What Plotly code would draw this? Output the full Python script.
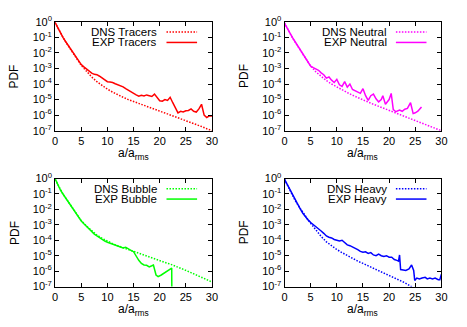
import plotly.graph_objects as go

# a/a_rms values and log10(PDF)
x_dns = [0, 0.5, 1, 1.5, 2, 2.5, 3, 3.5, 4, 4.5, 5, 6, 7, 8, 9, 10, 11, 12, 13, 14, 15,
         16, 17, 18, 19, 20, 21, 22, 23, 24, 25, 26, 27, 28, 29, 30]

dns_tracers = [-0.05, -0.4, -0.72, -1.0, -1.28, -1.55, -1.8, -2.05, -2.3, -2.55, -2.8,
               -3.2, -3.55, -3.85, -4.1, -4.33, -4.52, -4.7, -4.85, -5.0, -5.13, -5.26,
               -5.38, -5.5, -5.62, -5.74, -5.86, -5.98, -6.1, -6.22, -6.34, -6.47, -6.6,
               -6.73, -6.87, -7.0]
dns_neutral = [-0.08, -0.42, -0.74, -1.02, -1.3, -1.56, -1.82, -2.07, -2.32, -2.58, -2.85,
               -3.22, -3.52, -3.78, -4.0, -4.2, -4.38, -4.55, -4.72, -4.88, -5.02, -5.16,
               -5.3, -5.43, -5.56, -5.7, -5.83, -5.96, -6.08, -6.2, -6.32, -6.45, -6.58,
               -6.72, -6.86, -7.0]
dns_bubble = [-0.05, -0.4, -0.72, -1.0, -1.25, -1.5, -1.75, -2.0, -2.25, -2.48, -2.72,
              -3.08, -3.4, -3.66, -3.88, -4.07, -4.22, -4.36, -4.48, -4.62, -4.76, -4.88,
              -5.0, -5.12, -5.23, -5.34, -5.44, -5.54, -5.66, -5.8, -5.95, -6.1, -6.25,
              -6.4, -6.55, -6.7]
dns_heavy = [-0.05, -0.4, -0.75, -1.08, -1.4, -1.68, -1.95, -2.2, -2.45, -2.68, -2.9,
             -3.35, -3.75, -4.1, -4.38, -4.6, -4.8, -5.0, -5.18, -5.35, -5.5, -5.65,
             -5.8, -5.95, -6.1, -6.25, -6.4, -6.56, -6.75, -6.95, -7.15, -7.35, -7.5,
             -7.7, -7.9, -8.1]

x_exp_tracers = [0, 0.5, 1, 1.5, 2, 2.5, 3, 3.5, 4, 4.5, 5, 5.5, 6, 6.5, 7, 7.5, 8, 8.5, 9,
                 9.5, 10, 10.5, 11, 11.5, 12, 12.5, 13, 13.5, 14, 14.5, 15, 15.5, 16, 16.5,
                 17, 17.5, 18, 18.5, 19, 19.5, 20, 20.5, 21, 21.5, 22, 22.5, 23, 23.5, 24,
                 24.5, 25, 25.5, 26, 26.5, 27, 27.5, 28, 28.5, 29, 29.5, 30]
exp_tracers = [-0.05, -0.4, -0.72, -1.0, -1.27, -1.52, -1.77, -2.0, -2.25, -2.5, -2.75,
               -2.9, -3.05, -3.15, -3.3, -3.38, -3.4, -3.5, -3.62, -3.78, -3.85, -3.87,
               -3.9, -3.98, -4.05, -4.1, -4.18, -4.3, -4.4, -4.55, -4.62, -4.7, -4.78,
               -4.72, -4.76, -4.7, -4.75, -4.8, -4.65, -4.85, -5.08, -5.1, -5.0, -5.05,
               -4.85, -5.2, -5.5, -5.85, -5.75, -5.8, -5.72, -5.7, -5.6, -5.75, -5.8,
               -5.6, -5.3, -6.0, -6.15, -6.05, -6.05]

x_exp_neutral = [0, 0.5, 1, 1.5, 2, 2.5, 3, 3.5, 4, 4.5, 5, 5.5, 6, 6.5, 7, 7.5, 8, 8.5, 9,
                 9.5, 10, 10.5, 11, 11.5, 12, 12.5, 13, 13.5, 14, 14.5, 15, 15.5, 16, 16.5,
                 17, 17.5, 18, 18.5, 18.8, 19.3, 20, 20.4, 20.8, 21.3, 22, 22.5, 23, 23.5,
                 24.1, 24.6, 25, 25.5, 26.2]
exp_neutral = [-0.1, -0.42, -0.72, -1.0, -1.27, -1.52, -1.77, -2.02, -2.28, -2.55, -2.85,
               -2.95, -3.05, -3.12, -3.28, -3.4, -3.62, -3.55, -3.75, -3.9, -3.7, -4.05,
               -4.15, -3.85, -4.2, -4.0, -4.35, -4.45, -4.55, -4.6, -4.3, -4.75, -5.05,
               -4.75, -4.65, -4.95, -5.15, -5.0, -4.75, -5.3, -5.0, -4.6, -5.65, -5.78,
               -5.68, -5.75, -5.62, -5.57, -5.2, -5.9, -5.85, -5.75, -5.47]

x_exp_bubble = [0, 0.5, 1, 1.5, 2, 2.5, 3, 3.5, 4, 4.5, 5, 5.5, 6, 6.5, 7, 7.5, 8, 8.5, 9,
                9.5, 10, 10.5, 11, 11.5, 12, 12.5, 13, 13.5, 14, 14.5, 15, 15.5, 16, 16.5,
                17, 17.5, 18, 18.5, 18.8, 19.3, 19.7, 20.3, 21, 21.5, 22, 22.3, 22.35]
exp_bubble = [-0.02, -0.4, -0.74, -1.0, -1.25, -1.52, -1.77, -2.02, -2.28, -2.52, -2.75,
              -2.93, -3.1, -3.28, -3.45, -3.6, -3.72, -3.85, -3.94, -4.05, -4.13, -4.2,
              -4.27, -4.33, -4.39, -4.45, -4.5, -4.45, -4.58, -4.65, -4.74, -5.05, -5.3,
              -5.5, -5.6, -5.62, -5.72, -5.65, -5.6, -6.25, -6.35, -6.25, -6.1, -6.0,
              -5.85, -5.8, -9.0]

x_exp_heavy = [0, 0.5, 1, 1.5, 2, 2.5, 3, 3.5, 4, 4.5, 5, 5.5, 6, 6.5, 7, 7.5, 8, 8.5, 9,
               9.5, 10, 10.5, 11, 11.5, 12, 12.5, 13, 13.5, 14, 14.5, 15, 15.5, 16, 16.5,
               17, 17.5, 18, 18.5, 19, 19.5, 20, 20.5, 21, 21.5, 21.8, 22, 22.2, 22.7,
               23.2, 23.8, 24.3, 24.7, 24.9, 25.3, 25.8, 26.3, 26.9, 27.3, 27.8, 28.3,
               28.8, 29.4, 29.7, 30]
exp_heavy = [-0.05, -0.38, -0.7, -1.03, -1.36, -1.67, -1.97, -2.25, -2.48, -2.68, -2.85,
             -2.98, -3.1, -3.25, -3.4, -3.55, -3.72, -3.8, -3.85, -3.95, -4.0, -4.05,
             -4.0, -4.15, -4.3, -4.35, -4.42, -4.5, -4.6, -4.72, -4.78, -4.75, -4.85,
             -4.8, -4.95, -5.0, -4.9, -5.0, -5.05, -5.0, -5.1, -5.1, -5.25, -5.3, -5.35,
             -4.95, -5.9, -5.92, -5.95, -5.85, -5.6, -5.95, -6.6, -6.45, -6.5, -6.45,
             -6.4, -6.5, -6.45, -6.5, -6.45, -6.55, -6.55, -6.2]

panels = [
    ("Tracers", "#ff0000", dns_tracers, x_exp_tracers, exp_tracers),
    ("Neutral", "#ff00ff", dns_neutral, x_exp_neutral, exp_neutral),
    ("Bubble", "#00ff00", dns_bubble, x_exp_bubble, exp_bubble),
    ("Heavy", "#0000ff", dns_heavy, x_exp_heavy, exp_heavy),
]

y_tick_vals = [1e0, 1e-1, 1e-2, 1e-3, 1e-4, 1e-5, 1e-6, 1e-7]
y_tick_text = ["10<sup>0</sup>", "10<sup>-1</sup>", "10<sup>-2</sup>", "10<sup>-3</sup>",
               "10<sup>-4</sup>", "10<sup>-5</sup>", "10<sup>-6</sup>", "10<sup>-7</sup>"]
x_tick_vals = [0, 5, 10, 15, 20, 25, 30]

# the page body has an 8px margin, so the figure is laid out from (8, 8)
OFF = 8
W, H = 467 - OFF, 327 - OFF
x_domains = [((53 - OFF) / W, (213 - OFF) / W), ((287 - OFF) / W, (447 - OFF) / W)]
y_domains = [(1 - (128 - OFF) / H, 1 - (14 - OFF) / H),
             (1 - (291 - OFF) / H, 1 - (178 - OFF) / H)]

FONT = "Liberation Sans, Arial, sans-serif"

fig = go.Figure()
layout = {}
annotations = []
shapes = []

for i, (name, color, dns, xe, ye) in enumerate(panels):
    row, col = divmod(i, 2)
    n = "" if i == 0 else str(i + 1)
    xa, ya = "x" + n, "y" + n

    fig.add_trace(go.Scatter(x=x_dns, y=[10 ** v for v in dns], mode="lines",
                             line=dict(color=color, width=1.5, dash="1.5px,1.5px"),
                             xaxis=xa, yaxis=ya, showlegend=False))
    fig.add_trace(go.Scatter(x=xe, y=[10 ** v for v in ye], mode="lines",
                             line=dict(color=color, width=1.5),
                             xaxis=xa, yaxis=ya, showlegend=False))

    axis_common = dict(showline=True, linecolor="black", linewidth=1, mirror="ticks",
                       ticks="inside", ticklen=4, tickcolor="black", showgrid=False,
                       zeroline=False, tickfont=dict(size=11, color="black"))
    layout["xaxis" + n] = dict(domain=x_domains[col], anchor=ya, range=[0, 30],
                               tickvals=x_tick_vals, **axis_common)
    layout["yaxis" + n] = dict(domain=y_domains[row], anchor=xa, type="log",
                               range=[-7, 0], tickvals=y_tick_vals,
                               ticktext=y_tick_text, **axis_common)

    # axis titles
    annotations.append(dict(text="a/a<sub>rms</sub>", xref=xa + " domain", yref=ya + " domain",
                            x=0.5, y=-0.215, xanchor="center", yanchor="middle",
                            showarrow=False, font=dict(size=12)))
    annotations.append(dict(text="PDF", xref=xa + " domain", yref=ya + " domain",
                            x=-0.26, y=0.5, xanchor="center", yanchor="middle",
                            textangle=-90, showarrow=False, font=dict(size=12)))

    # gnuplot-style key: text right-aligned, sample on the right
    for label, yk, dash in ((f"DNS {name}", 0.905, "1.5px,1.5px"), (f"EXP {name}", 0.81, "solid")):
        annotations.append(dict(text=label, xref=xa + " domain", yref=ya + " domain",
                                x=0.665, y=yk, xanchor="right", yanchor="middle",
                                showarrow=False, font=dict(size=11.5)))
        shapes.append(dict(type="line", xref=xa + " domain", yref=ya + " domain",
                           x0=0.71, x1=0.905, y0=yk, y1=yk,
                           line=dict(color=color, width=1.5, dash=dash)))

fig.update_layout(**layout)
fig.update_layout(
    annotations=annotations,
    shapes=shapes,
    width=W, height=H,
    margin=dict(l=0, r=0, t=0, b=0),
    paper_bgcolor="white",
    plot_bgcolor="white",
    font=dict(family=FONT, size=11, color="black"),
    showlegend=False,
)

fig.write_html("out.html")
